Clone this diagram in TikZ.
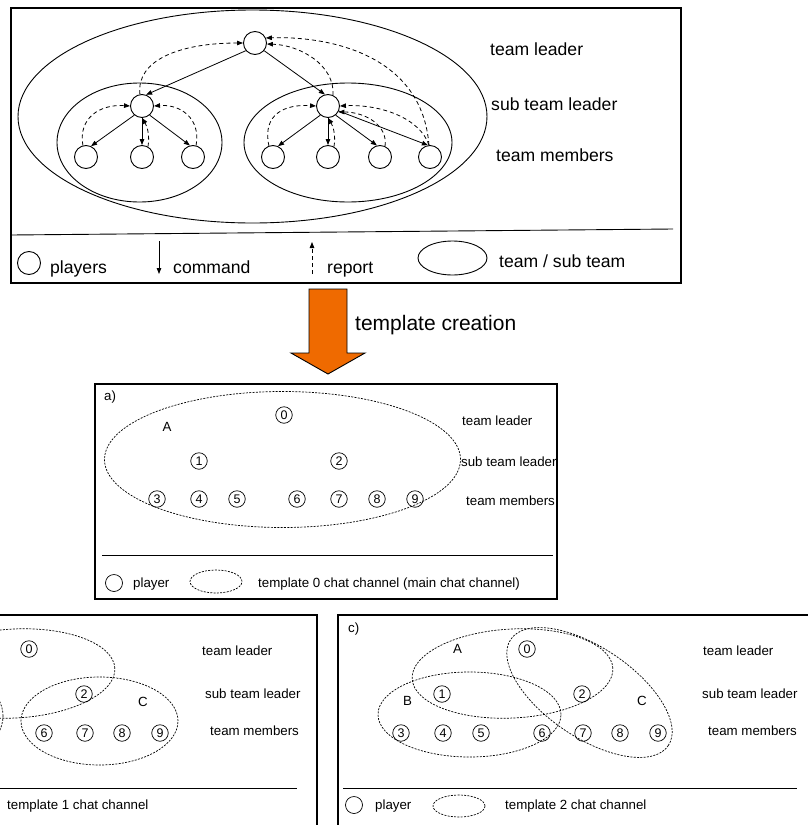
\documentclass[tikz,border=0pt]{standalone}
\usepackage{fontspec}
\setmainfont{Liberation Sans}
\usetikzlibrary{arrows.meta}
\definecolor{arroworange}{RGB}{239,106,0}
\begin{document}
\begin{tikzpicture}[x=1pt,y=-1pt,
  big/.style={font=\fontsize{17.6}{20}\selectfont, anchor=base west, inner sep=0pt},
  small/.style={font=\fontsize{13.3}{15}\selectfont, anchor=base west, inner sep=0pt},
  player/.style={circle, draw, line width=0.9pt, minimum size=23pt, inner sep=0pt},
  num/.style={circle, draw, line width=0.7pt, minimum size=16.5pt, inner sep=0pt, font=\fontsize{12.5}{13}\selectfont},
  cmd/.style={line width=0.8pt, -{Triangle[length=6pt,width=4.5pt]}},
  rep/.style={line width=0.8pt, dash pattern=on 4pt off 3pt, -{Triangle[length=6pt,width=4.5pt]}},
  team/.style={line width=0.9pt},
  chan/.style={line width=0.7pt, dash pattern=on 2pt off 1.3pt},
  frame/.style={line width=1.2pt},
  rule/.style={line width=0.9pt},
]
\useasboundingbox (0,0) rectangle (808,825);
\clip (0,0) rectangle (808,825);

% ---------------- team hierarchy ----------------
\draw[frame] (11,8) rectangle (681,283);
\draw[rule] (11,235) -- (673,229);

\draw[team] (252.5,116.5) ellipse [x radius=234.5pt, y radius=106.5pt];
\draw[team] (139.5,142.5) ellipse [x radius=82.5pt, y radius=59.5pt];
\draw[team] (348,142.5) ellipse [x radius=104pt, y radius=59.5pt];

\node[player] (L) at (255,43) {};
\node[player] (S1) at (142,106) {};
\node[player] (S2) at (328,106) {};
\node[player] (m1) at (86,157) {};
\node[player] (m2) at (142,157) {};
\node[player] (m3) at (193,157) {};
\node[player] (m4) at (273,157) {};
\node[player] (m5) at (328,157) {};
\node[player] (m6) at (380,157) {};
\node[player] (m7) at (430,157) {};

% commands
\draw[cmd] (L.-140) -- (S1.70);
\draw[cmd] (L.-40) -- (S2.105);
\draw[cmd] (S1.-130) -- (m1.65);
\draw[cmd] (S1.south) -- (m2.north);
\draw[cmd] (S1.-50) -- (m3.105);
\draw[cmd] (S2.-130) -- (m4.65);
\draw[cmd] (S2.south) -- (m5.north);
\draw[cmd] (S2.-50) -- (m6.105);
\draw[cmd] (S2.-25) -- (m7.100);

% reports
\draw[rep] (m1.105) .. controls (78,118) and (100,104) .. (S1.west);
\draw[rep] (m2.60) .. controls (150,135) and (147,126) .. (S1.south);
\draw[rep] (m3.75) .. controls (201,118) and (180,104) .. (S1.east);
\draw[rep] (m4.110) .. controls (262,114) and (285,104) .. (S2.west);
\draw[rep] (m5.60) .. controls (336,135) and (333,126) .. (S2.south);
\draw[rep] (m6.65) .. controls (388,125) and (365,112) .. (S2.-30);
\draw[rep] (m7.95) .. controls (420,118) and (380,104) .. (S2.east);
\draw[rep] (S1.100) .. controls (136,60) and (180,43) .. (L.west);
\draw[rep] (S2.65) .. controls (335,65) and (300,45) .. (L.-5);
\draw[rep] (m7.95) .. controls (422,55) and (330,36) .. (L.25);

\node[big] (tl) at (490,55) {team leader};
\node[big] (stl) at (491,110.5) {sub team leader};
\node[big] (tm) at (496,161.5) {team members};

% legend
\node[player] (lp) at (29,263) {};
\node[big] (lpt) at (50,273) {players};
\coordinate (ca) at (159,241);
\coordinate (cb) at (159,274);
\draw[cmd] (ca) -- (cb);
\node[big] (lct) at (173,273) {command};
\coordinate (ra) at (312,274);
\coordinate (rb) at (312,242);
\draw[rep] (ra) -- (rb);
\node[big] (lrt) at (327,273) {report};
\draw[team] (452.5,258) ellipse [x radius=34.5pt, y radius=17pt];
\node[big] (let) at (499,267) {team / sub team};

% ---------------- template creation arrow ----------------
\filldraw[fill=arroworange, draw=black, line width=0.9pt]
  (309,289) -- (347,289) -- (347,353) -- (365,353) -- (328,374) -- (291,353) -- (309,353) -- cycle;
\node[font=\fontsize{21}{24}\selectfont, anchor=base west, inner sep=0pt] (tc) at (355,330) {template creation};

% ---------------- panel a ----------------
\draw[frame] (95,384) rectangle (557,599);
\draw[rule] (102,555) -- (553,555);
\node[small] (alab) at (104,400) {a)};
\draw[chan] (282.5,459.5) ellipse [x radius=178pt, y radius=68pt];
\node[small] (aA) at (162.5,431.5) {A};
\node[num] (a0) at (284,415) {0};
\node[num] (a1) at (199,461) {1};
\node[num] (a2) at (339,461) {2};
\node[num] (a3) at (157,499) {3};
\node[num] (a4) at (199,499) {4};
\node[num] (a5) at (237,499) {5};
\node[num] (a6) at (297,499) {6};
\node[num] (a7) at (339,499) {7};
\node[num] (a8) at (377,499) {8};
\node[num] (a9) at (415,499) {9};
\node[small] (atl) at (462,425) {team leader};
\node[small] (astl) at (461,466.5) {sub team leader};
\node[small] (atm) at (466,505) {team members};
\node[num, minimum size=17pt] (ap) at (114,583) {};
\node[small] (apt) at (133,587.5) {player};
\draw[chan] (216,581.5) ellipse [x radius=26pt, y radius=11.5pt];
\node[small] (act) at (258,587.5) {template 0 chat channel (main chat channel)};

% ---------------- panel b ----------------
\draw[frame] (-160,615) rectangle (317,840);
\draw[rule] (-155,788) -- (297,788);
\draw[chan, rotate around={3:(14.5,673.5)}] (14.5,673.5) ellipse [x radius=100.5pt, y radius=44.5pt];
\draw[chan] (-59,716) ellipse [x radius=62pt, y radius=45pt];
\draw[chan] (99.5,721) ellipse [x radius=78.5pt, y radius=44pt];
\node[small] (bC) at (138,706) {C};
\node[num] (b0) at (29,649) {0};
\node[num] (b2) at (84,694) {2};
\node[num] (b6) at (44,733) {6};
\node[num] (b7) at (85,733) {7};
\node[num] (b8) at (122,733) {8};
\node[num] (b9) at (160,733) {9};
\node[small] (btl) at (202,655) {team leader};
\node[small] (bstl) at (205,698) {sub team leader};
\node[small] (btm) at (210,735) {team members};
\node[small] (bct) at (7,809) {template 1 chat channel};

% ---------------- panel c ----------------
\draw[frame] (338,615) rectangle (815,840);
\draw[rule] (343,788) -- (797,788);
\node[small] (clab) at (348,632) {c)};
\draw[chan, rotate around={3:(512.5,673.5)}] (512.5,673.5) ellipse [x radius=100.5pt, y radius=44.5pt];
\draw[chan] (469.5,714.5) ellipse [x radius=91.5pt, y radius=42.5pt];
\draw[chan, rotate around={-34:(589.5,692.5)}] (589.5,692.5) ellipse [x radius=95pt, y radius=45pt];
\node[small] (cA) at (453,653) {A};
\node[small] (cB) at (403,705) {B};
\node[small] (cC) at (637,705) {C};
\node[num] (c0) at (527,649) {0};
\node[num] (c1) at (442,694) {1};
\node[num] (c2) at (582,694) {2};
\node[num] (c3) at (401,733) {3};
\node[num] (c4) at (443,733) {4};
\node[num] (c5) at (481,733) {5};
\node[num] (c6) at (542,733) {6};
\node[num] (c7) at (583,733) {7};
\node[num] (c8) at (620,733) {8};
\node[num] (c9) at (658,733) {9};
\node[small] (ctl) at (703,655) {team leader};
\node[small] (cstl) at (702,698) {sub team leader};
\node[small] (ctm) at (708,735) {team members};
\node[num, minimum size=17pt] (cp) at (354,805) {};
\node[small] (cpt) at (375,809) {player};
\draw[chan] (459,806) ellipse [x radius=26pt, y radius=11pt];
\node[small] (cct) at (505,809) {template 2 chat channel};
\end{tikzpicture}
\end{document}
